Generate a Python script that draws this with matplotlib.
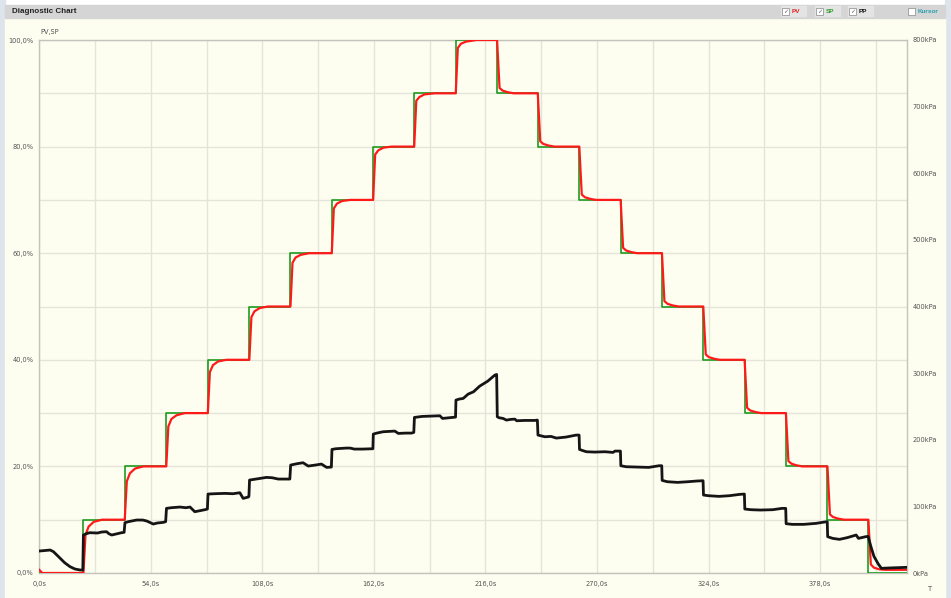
import matplotlib
matplotlib.use('Agg')
import matplotlib.pyplot as plt
from matplotlib.patches import Rectangle
from matplotlib.ticker import FixedLocator, MultipleLocator

# ─── Data ────────────────────────────────────────────────────────────────────
# SP: set point steps, time in s, value in %
sp_times = [0.0, 21.4, 41.4, 61.5, 81.6, 101.7, 121.6, 141.6, 161.6, 181.5,
            201.6, 221.6, 241.3, 261.4, 281.4, 301.4, 321.4, 341.4, 361.4,
            381.5, 401.3, 420.0]
sp_levels = [0, 10, 20, 30, 40, 50, 60, 70, 80, 90,
             100, 90, 80, 70, 60, 50, 40, 30, 20,
             10, 0, 0]

# PV: valve position (%)
pv_points = [
    (0.0, 0.6), (1.5, 0.0), (21.4, 0.0),
    (22.4, 7.1), (23.9, 8.7), (26.4, 9.6), (30.4, 10.0), (41.4, 10.0),
    (42.4, 17.2), (43.9, 18.7), (46.4, 19.6), (50.4, 20.0), (61.5, 20.0),
    (62.5, 27.5), (64.0, 28.9), (66.5, 29.6), (70.5, 30.0), (81.6, 30.0),
    (82.6, 37.7), (84.1, 39.0), (86.6, 39.7), (90.6, 40.0), (101.7, 40.0),
    (102.7, 48.0), (104.2, 49.1), (106.7, 49.7), (110.7, 50.0), (121.6, 50.0),
    (122.6, 58.2), (124.1, 59.2), (126.6, 59.7), (130.6, 60.0), (141.6, 60.0),
    (142.6, 68.4), (144.1, 69.3), (146.6, 69.8), (150.6, 70.0), (161.6, 70.0),
    (162.6, 78.5), (164.1, 79.3), (166.6, 79.8), (170.6, 80.0), (181.5, 80.0),
    (182.5, 88.6), (184.0, 89.3), (186.5, 89.8), (191.5, 90.0), (201.6, 90.0),
    (202.6, 98.5), (204.1, 99.3), (206.6, 99.7), (211.6, 100.0), (221.6, 100.0),
    (222.8, 91.0), (224.3, 90.5), (226.8, 90.2), (229.6, 90.0), (241.3, 90.0),
    (242.5, 81.0), (244.0, 80.5), (246.5, 80.2), (249.3, 80.0), (261.4, 80.0),
    (262.6, 71.0), (264.1, 70.5), (266.6, 70.2), (269.4, 70.0), (281.4, 70.0),
    (282.6, 61.0), (284.1, 60.5), (286.6, 60.2), (289.4, 60.0), (301.4, 60.0),
    (302.6, 51.0), (304.1, 50.5), (306.6, 50.2), (309.4, 50.0), (321.4, 50.0),
    (322.6, 41.0), (324.1, 40.5), (326.6, 40.2), (329.4, 40.0), (341.4, 40.0),
    (342.6, 31.0), (344.1, 30.5), (346.6, 30.2), (349.4, 30.0), (361.4, 30.0),
    (362.6, 21.0), (364.1, 20.5), (366.6, 20.2), (369.4, 20.0), (381.5, 20.0),
    (382.7, 11.0), (384.2, 10.5), (386.7, 10.2), (389.5, 10.0), (401.3, 10.0),
    (402.5, 1.6), (404.0, 1.0), (406.5, 0.7), (409.3, 0.6), (420.0, 0.6),
]

# PP: supply pressure (kPa)
pp_points = [
    (0.0, 33), (2.0, 33.5), (5.3, 34.5), (6.9, 32), (10.0, 22.5), (12.3, 15.5),
    (14.9, 9.5), (17.3, 6), (19.8, 4.5), (21.1, 4.5),
    (21.4, 57), (22.8, 59), (24.5, 60.5), (28.2, 60), (30.2, 61.5), (32.6, 62),
    (33.7, 59), (35.1, 57), (37.2, 58.5), (39.9, 60.5), (41.1, 61),
    (41.5, 75.5), (43.1, 77), (47.1, 79.5), (50.1, 79.5), (52.1, 78), (55.2, 73.5),
    (57.1, 75), (60.0, 76), (61.2, 77),
    (61.6, 97), (64.0, 98), (68.1, 99), (71.0, 98), (73.0, 99), (75.3, 92),
    (76.9, 93), (80.2, 95), (81.4, 96),
    (81.7, 118.5), (84.9, 119), (89.9, 119.5), (93.8, 119), (97.1, 120.5),
    (98.7, 112), (101.2, 114), (101.5, 115),
    (101.8, 139.5), (104.8, 141), (110.0, 143.5), (112.7, 143), (115.7, 141),
    (117.3, 141), (121.3, 141),
    (121.7, 162), (124.7, 164), (127.7, 165.5), (130.2, 160.5), (133.6, 162),
    (136.6, 163.5), (139.1, 158.5), (141.4, 159),
    (141.7, 185.5), (143.6, 186.5), (148.6, 187.5), (150.5, 187.5), (152.5, 186),
    (156.5, 186), (160.9, 186.5), (161.5, 186.5),
    (161.7, 208.5), (163.4, 210), (166.4, 212), (172.1, 213), (173.8, 209.5),
    (177.4, 210), (180.2, 210), (181.3, 211),
    (181.6, 233.5), (185.3, 235), (190.3, 235.5), (193.9, 236), (195.2, 232),
    (198.2, 233), (200.2, 233.5), (201.5, 234),
    (201.7, 259.5), (203.2, 261), (205.2, 262), (207.6, 268.5), (210.2, 272),
    (213.2, 280.5), (217.1, 288), (220.5, 297), (221.4, 298),
    (221.7, 234.5), (222.6, 233), (224.5, 232), (226.1, 229.5), (228.1, 230.5),
    (230.2, 231), (231.1, 228.5), (235.0, 229), (239.9, 229), (241.1, 229.5),
    (241.4, 207), (242.7, 206), (244.7, 204.5), (247.7, 205), (250.3, 202.5),
    (254.9, 204), (259.9, 207), (261.3, 207),
    (261.5, 185.5), (262.8, 184), (264.8, 182), (268.8, 181.5), (273.8, 182),
    (277.7, 181), (278.7, 183), (281.3, 183),
    (281.5, 161), (284.0, 159.5), (289.0, 159), (295.0, 158.5), (298.0, 160),
    (300.0, 161), (301.3, 161),
    (301.5, 139), (304.0, 137), (309.0, 136), (314.0, 137), (318.0, 138),
    (321.3, 138.5),
    (321.5, 117), (324.0, 116), (329.0, 115), (334.0, 116), (339.0, 118),
    (341.3, 118.5),
    (341.5, 96), (344.5, 95), (349.0, 94.5), (355.0, 95), (359.5, 97), (361.3, 97),
    (361.5, 74), (364.5, 73), (370.0, 73), (376.0, 74.5), (380.0, 76.5), (381.4, 77),
    (381.6, 54.5), (384.0, 52), (387.3, 50.5), (391.0, 53), (395.4, 57),
    (396.5, 52), (400.0, 54.5), (401.2, 55),
    (402.5, 40), (404.0, 25), (406.0, 14), (407.6, 7), (411.0, 7.5), (416.0, 8),
    (420.0, 8.5),
]

x_ticks = [0, 54, 108, 162, 216, 270, 324, 378]
y_ticks = [0, 20, 40, 60, 80, 100]
kpa_ticks = [0, 100, 200, 300, 400, 500, 600, 700, 800]

# ─── Styles ──────────────────────────────────────────────────────────────────
W, H = 951, 598
BG = '#fdfdf0'
GRID = '#e4e4da'
SPINE = '#c4c4bc'
TXT = '#555555'
FS = 4.8


def fx(x):
    return x / W


def fy(y):
    return 1 - y / H


def add_rect(x0, y0, x1, y1, **kw):
    """Rectangle given in pixel coords (y from the top)."""
    r = Rectangle((fx(x0), fy(y1)), fx(x1) - fx(x0), fy(y0) - fy(y1),
                  transform=fig.transFigure, **kw)
    fig.patches.append(r)
    return r


fig = plt.figure(figsize=(W / 100, H / 100), dpi=100, facecolor='white')

# window frame: side strips, header band, ivory panel (kept behind the axes)
add_rect(0, 0, 5, H, color='#dde4ec', zorder=-10)
add_rect(945, 0, W, H, color='#dde4ec', zorder=-10)
add_rect(5, 18, 945, H, color=BG, zorder=-10)
add_rect(5, 5, 945, 18, color='#d5d5d5', zorder=-10)

fig.text(fx(12), fy(11.5), 'Diagnostic Chart', fontsize=5.8, fontweight='bold',
         color='#222222', va='center', ha='left', family='Liberation Sans')

# checkboxes in the header
boxes = [(782, 'PV', '#e02020', True), (816, 'SP', '#2e9e2e', True),
         (849, 'PP', '#111111', True), (908, 'Kursor', '#2a9fb0', False)]
for bx, lab, col, checked in boxes:
    if checked:
        add_rect(bx - 1, 6, bx + 24, 16, color='#e4e4e4', zorder=-5)
    add_rect(bx, 7.5, bx + 7, 14.5, facecolor='white', edgecolor='#888888',
             linewidth=0.5, zorder=-4)
    if checked:
        fig.text(fx(bx + 3.5), fy(11.3), '✓', fontsize=4.5, color='#666666',
                 ha='center', va='center')
    fig.text(fx(bx + 10), fy(11.3), lab, fontsize=4.6, fontweight='bold', color=col,
             ha='left', va='center', family='Liberation Sans')

# ─── Main axes ───────────────────────────────────────────────────────────────
ax = fig.add_axes([fx(39.2), fy(573), fx(907) - fx(39.2), fy(40) - fy(573)])
ax.set_facecolor(BG)
ax.set_xlim(0, 420)
ax.set_ylim(0, 100)

ax.xaxis.set_major_locator(FixedLocator(x_ticks))
ax.xaxis.set_minor_locator(MultipleLocator(27))
ax.yaxis.set_major_locator(FixedLocator(y_ticks))
ax.yaxis.set_minor_locator(MultipleLocator(10))
ax.set_xticklabels([f'{v:.1f}s'.replace('.', ',') for v in x_ticks])
ax.set_yticklabels([f'{v:.1f}%'.replace('.', ',') for v in y_ticks])
ax.grid(which='both', color=GRID, linewidth=1.0)
ax.set_axisbelow(True)
ax.tick_params(which='both', length=0, labelsize=FS, labelcolor=TXT)
ax.tick_params(axis='x', pad=6)
ax.tick_params(axis='y', pad=4)
for s in ax.spines.values():
    s.set_color(SPINE)
    s.set_linewidth(1.0)

ax.step(sp_times, sp_levels, where='post', color='#1f9a1f', linewidth=1.2, zorder=3)
ax.plot([p[0] for p in pv_points], [p[1] for p in pv_points],
        color='#ff1a1a', linewidth=1.6, zorder=4)

ax2 = ax.twinx()
ax2.set_ylim(0, 800)
ax2.yaxis.set_major_locator(FixedLocator(kpa_ticks))
ax2.set_yticklabels([f'{v}kPa' for v in kpa_ticks])
ax2.tick_params(length=0, labelsize=FS, labelcolor=TXT, pad=4)
for s in ax2.spines.values():
    s.set_visible(False)
ax2.plot([p[0] for p in pp_points], [p[1] for p in pp_points],
         color='#151515', linewidth=2.0, zorder=5)

fig.text(fx(40), fy(32), 'PV,SP', fontsize=FS, color=TXT, ha='left', va='center')
fig.text(fx(928), fy(589), 'T', fontsize=FS, color=TXT, ha='left', va='center')

fig.savefig('out.png', dpi=100, facecolor=fig.get_facecolor())
